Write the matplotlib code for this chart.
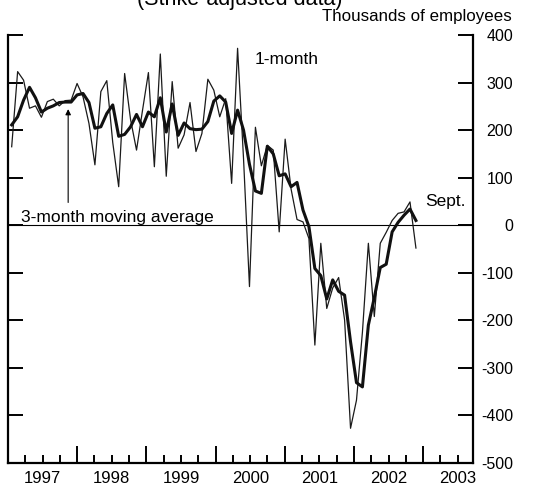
import matplotlib
matplotlib.use("Agg")
import matplotlib.pyplot as plt
import numpy as np
from matplotlib.ticker import FixedLocator, FixedFormatter, NullFormatter

plt.rcParams["font.family"] = ["Liberation Sans", "DejaVu Sans"]
plt.rcParams["axes.unicode_minus"] = False

# change in payroll employment, Jan 1997 - Sept 2002, thousands
one_month = [165, 323, 305, 246, 251, 227, 260, 265, 251, 262, 263, 298,      # 1997
             270, 214, 127, 281, 304, 174, 81, 319, 222, 158, 241, 321,       # 1998
             123, 360, 103, 302, 162, 190, 258, 155, 193, 307, 284, 228,      # 1999
             266, 88, 372, 140, -129, 206, 125, 168, 158, -14, 181, 76,       # 2000
             12, 7, -28, -252, -38, -175, -132, -110, -199, -427, -368, -225,  # 2001
             -38, -192, -38, -15, 10, 25, 28, 49, -48]                         # 2002
three_month = [211, 228, 263, 290, 268, 238, 246, 251, 258, 259, 259, 274,
               277, 258, 204, 207, 235, 253, 187, 191, 207, 233, 207, 238,
               228, 268, 196, 255, 189, 215, 203, 201, 202, 218, 261, 272,
               259, 193, 242, 200, 128, 72, 67, 166, 150, 104, 108, 81,
               90, 32, -3, -91, -106, -155, -115, -139, -147, -245, -331, -340,
               -210, -152, -89, -82, -14, 6, 21, 34, 10]
years = ["1997", "1998", "1999", "2000", "2001", "2002", "2003"]

months = np.arange(len(one_month))

fig = plt.figure(figsize=(5.4, 4.87), dpi=100)
ax = fig.add_axes([8 / 540, 1 - 463 / 487, 465 / 540, 428 / 487])

ax.axhline(0, color="black", lw=0.8)
ax.plot(months, one_month, color="#1a1a1a", lw=0.9)
ax.plot(months, three_month, color="#111111", lw=2.2)

# axis years (as drawn on the chart) are a little narrower than 12 months
x0 = -0.62
yr = 11.64
ax.set_xlim(x0, x0 + 6.72 * yr)
ax.set_ylim(-500, 400)

ax.xaxis.set_major_locator(FixedLocator([x0 + yr * i for i in range(7)]))
ax.xaxis.set_major_formatter(NullFormatter())
pos, labs = [], []
for i in range(7):
    for q in (1, 2, 3):
        p = x0 + yr * (i + q / 4)
        if p < x0 + 6.72 * yr:
            pos.append(p)
            labs.append(years[i] if q == 2 else "")
ax.xaxis.set_minor_locator(FixedLocator(pos))
ax.xaxis.set_minor_formatter(FixedFormatter(labs))
ax.tick_params(axis="x", which="major", direction="in", length=12.2, width=1.4)
ax.tick_params(axis="x", which="minor", direction="in", length=5.8, width=1.4,
               labelsize=12, pad=6)

ax.set_yticks(np.arange(-500, 401, 100))
ax.tick_params(axis="y", left=True, right=True, labelleft=False, labelright=True,
               direction="in", length=10.8, width=1.4, labelsize=11.5, pad=28.8)
for t in ax.get_yticklabels():
    t.set_horizontalalignment("right")

ax.spines["top"].set_visible(False)
for s in ("left", "right", "bottom"):
    ax.spines[s].set_linewidth(1.6)

ax.text(40.9, 339, "1-month", fontsize=12.5)
ax.text(1.5, 7, "3-month moving average", fontsize=12.5)
ax.text(69.5, 40, "Sept.", fontsize=12.5)
ax.annotate("", xy=(9.5, 250), xytext=(9.5, 42),
            arrowprops=dict(arrowstyle="-|>", lw=0.8, color="black", mutation_scale=8))

fig.text(240 / 540, 1 - 5 / 487, "(Strike-adjusted data)", ha="center", va="baseline",
         fontsize=15.5)
fig.text(512 / 540, 1 - 20.7 / 487, "Thousands of employees", ha="right",
         va="baseline", fontsize=12.2)

fig.savefig("out.png", dpi=100)
